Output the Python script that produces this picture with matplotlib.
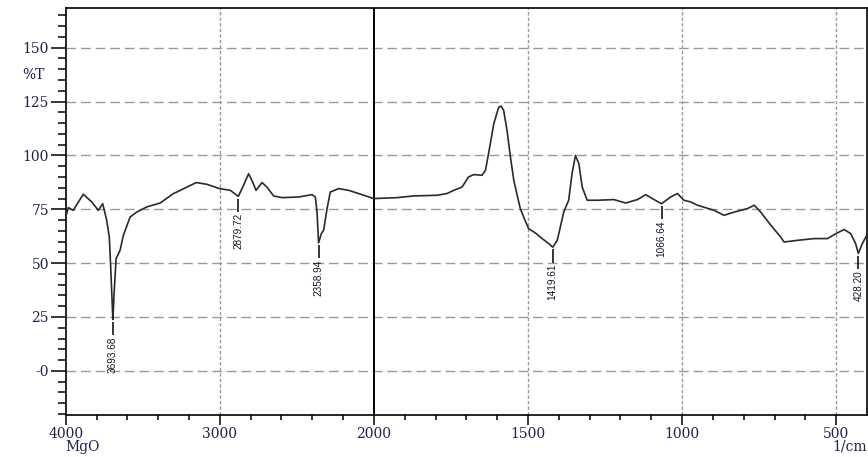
import numpy as np
import matplotlib
matplotlib.use('Agg')
import matplotlib.pyplot as plt
import matplotlib.transforms as mtransforms
from matplotlib.ticker import FixedLocator, FixedFormatter

# FTIR spectrum of MgO
wavenumber = [4000, 3983, 3951, 3886, 3831, 3788, 3760, 3734, 3717, 3708, 3697,
              3693.68, 3686, 3673, 3647, 3626, 3582, 3539, 3474, 3387, 3301,
              3279, 3214, 3153, 3084, 3002, 2932, 2879.72, 2846, 2813, 2787,
              2765, 2726, 2694, 2651, 2597, 2489, 2402, 2380, 2369, 2358.94,
              2341, 2326, 2304, 2283, 2229, 2164, 2078, 2003, 1996, 1925, 1871,
              1795, 1763, 1741, 1714, 1693, 1676, 1649, 1638, 1628, 1611, 1595,
              1587, 1579, 1568, 1557, 1546, 1535, 1525, 1514, 1498, 1476, 1454,
              1433, 1419.61, 1405, 1395, 1384, 1368, 1357, 1346, 1335, 1324,
              1308, 1275, 1221, 1183, 1145, 1118, 1091, 1066.64, 1037, 1015,
              994, 972, 950, 896, 864, 831, 788, 766, 745, 712, 680, 669, 625,
              571, 528, 501, 474, 453, 437, 428.20, 415, 404, 400]
transmittance = [71.4, 75.8, 74.5, 82.0, 78.4, 74.5, 77.6, 69.9, 62.1, 48.2, 29.0,
                 23.8, 35.9, 52.1, 56.0, 62.9, 71.4, 73.7, 76.1, 77.9, 82.3,
                 83.0, 85.3, 87.4, 86.6, 84.6, 83.8, 81.0, 86.1, 91.5, 87.7,
                 83.8, 87.4, 85.3, 81.2, 80.4, 80.7, 81.8, 80.7, 73.7, 59.4,
                 63.7, 65.3, 75.3, 83.0, 84.6, 83.8, 81.8, 80.0, 80.0, 80.4, 81.2,
                 81.5, 82.3, 83.8, 85.3, 90.0, 91.1, 90.8, 93.1, 100.8, 114.7, 122.4,
                 122.9, 120.9, 111.6, 99.3, 88.4, 81.5, 75.3, 71.4, 66.0, 64.0, 61.4,
                 59.1, 57.4, 60.6, 66.8, 73.7, 79.2, 91.6, 100.0, 96.2, 85.3,
                 79.2, 79.2, 79.5, 77.9, 79.5, 81.8, 79.5, 77.6, 80.7, 82.3,
                 79.2, 78.4, 76.9, 74.5, 72.2, 73.7, 75.3, 76.9, 73.7, 67.6, 62.1, 59.8, 60.6,
                 61.4, 61.4, 63.7, 65.6, 63.7, 59.1, 54.5, 59.1, 62.1, 63.0]

peak_wn = [3693.68, 2879.72, 2358.94, 1419.61, 1066.64, 428.20]
peak_t = [23.8, 81.0, 59.4, 57.4, 77.6, 54.5]

x_major = [4000, 3000, 2000, 1500, 1000, 500]
x_minor = [3800, 3600, 3400, 3200, 2800, 2600, 2400, 2200,
           1900, 1800, 1700, 1600, 1400, 1300, 1200, 1100,
           900, 800, 700, 600]
y_major = [0, 25, 50, 75, 100, 125, 150]
y_labels = ['-0', '25', '50', '75', '100', '125', '150']


def forward(w):
    w = np.asarray(w, dtype=float)
    return np.where(w > 2000, 2000 + (w - 2000) / 2.0, w)


def inverse(u):
    u = np.asarray(u, dtype=float)
    return np.where(u > 2000, 2000 + (u - 2000) * 2.0, u)


label_col = '#1f2250'
tick_font = {'family': 'DejaVu Serif', 'size': 10}

fig = plt.figure(figsize=(8.68, 4.57), dpi=100)
ax = fig.add_axes([65.7 / 868, 1 - 415 / 457, (867 - 65.7) / 868, (415 - 8.3) / 457])
ax.set_xscale('function', functions=(forward, inverse))
ax.set_xlim(4000, 400)
ax.set_ylim(-20.5, 168.3)

# grid
for y in y_major:
    ax.axhline(y, color='#9a9a9a', lw=1.0, dashes=(7, 3.5), zorder=1)
for x in [3000, 1500, 1000, 500]:
    ax.axvline(x, color='#9a9a9a', lw=1.0, dashes=(2.5, 1.5), zorder=1)
ax.axvline(2000, color='black', lw=1.4, zorder=2)

ax.plot(wavenumber, transmittance, color='#2a2a2a', lw=1.2, zorder=3)

# peak markers
for w, t in zip(peak_wn, peak_t):
    ax.vlines(w, t - 1.0, t - 7.2, color='black', lw=1.1, zorder=3)
    ax.text(w, t - 7.8, '%.2f' % w, rotation=90, ha='center', va='top',
            family='Liberation Sans', fontsize=7.2,
            color='#141428', zorder=4)

ax.xaxis.set_major_locator(FixedLocator(x_major))
ax.xaxis.set_minor_locator(FixedLocator(x_minor))
ax.xaxis.set_major_formatter(FixedFormatter([str(v) for v in x_major]))
ax.yaxis.set_major_locator(FixedLocator(y_major))
ax.yaxis.set_minor_locator(FixedLocator(list(range(-20, 170, 5))))
ax.yaxis.set_major_formatter(FixedFormatter(y_labels))

ax.tick_params(axis='x', which='major', direction='out', length=7, width=1.1, pad=2)
ax.tick_params(axis='x', which='minor', direction='out', length=3.5, width=1.1)
ax.tick_params(axis='y', which='major', direction='out', length=11, width=1.1, pad=1)
ax.tick_params(axis='y', which='minor', direction='out', length=5.5, width=1.1)
for lab in ax.get_xticklabels() + ax.get_yticklabels():
    lab.set_fontfamily(tick_font['family'])
    lab.set_fontsize(tick_font['size'])
    lab.set_color(label_col)

for s in ax.spines.values():
    s.set_linewidth(1.2)
    s.set_color('black')

trans = mtransforms.blended_transform_factory(ax.transAxes, ax.transData)
ax.text(-0.026, 137.5, '%T', transform=trans, ha='right', va='center',
        color=label_col, **tick_font)
fig.text(65 / 868, 1 - 451 / 457, 'MgO', ha='left', va='baseline', color=label_col, **tick_font)
fig.text(0.999, 1 - 451 / 457, '1/cm', ha='right', va='baseline', color=label_col, **tick_font)

fig.savefig('out.png', dpi=100)
